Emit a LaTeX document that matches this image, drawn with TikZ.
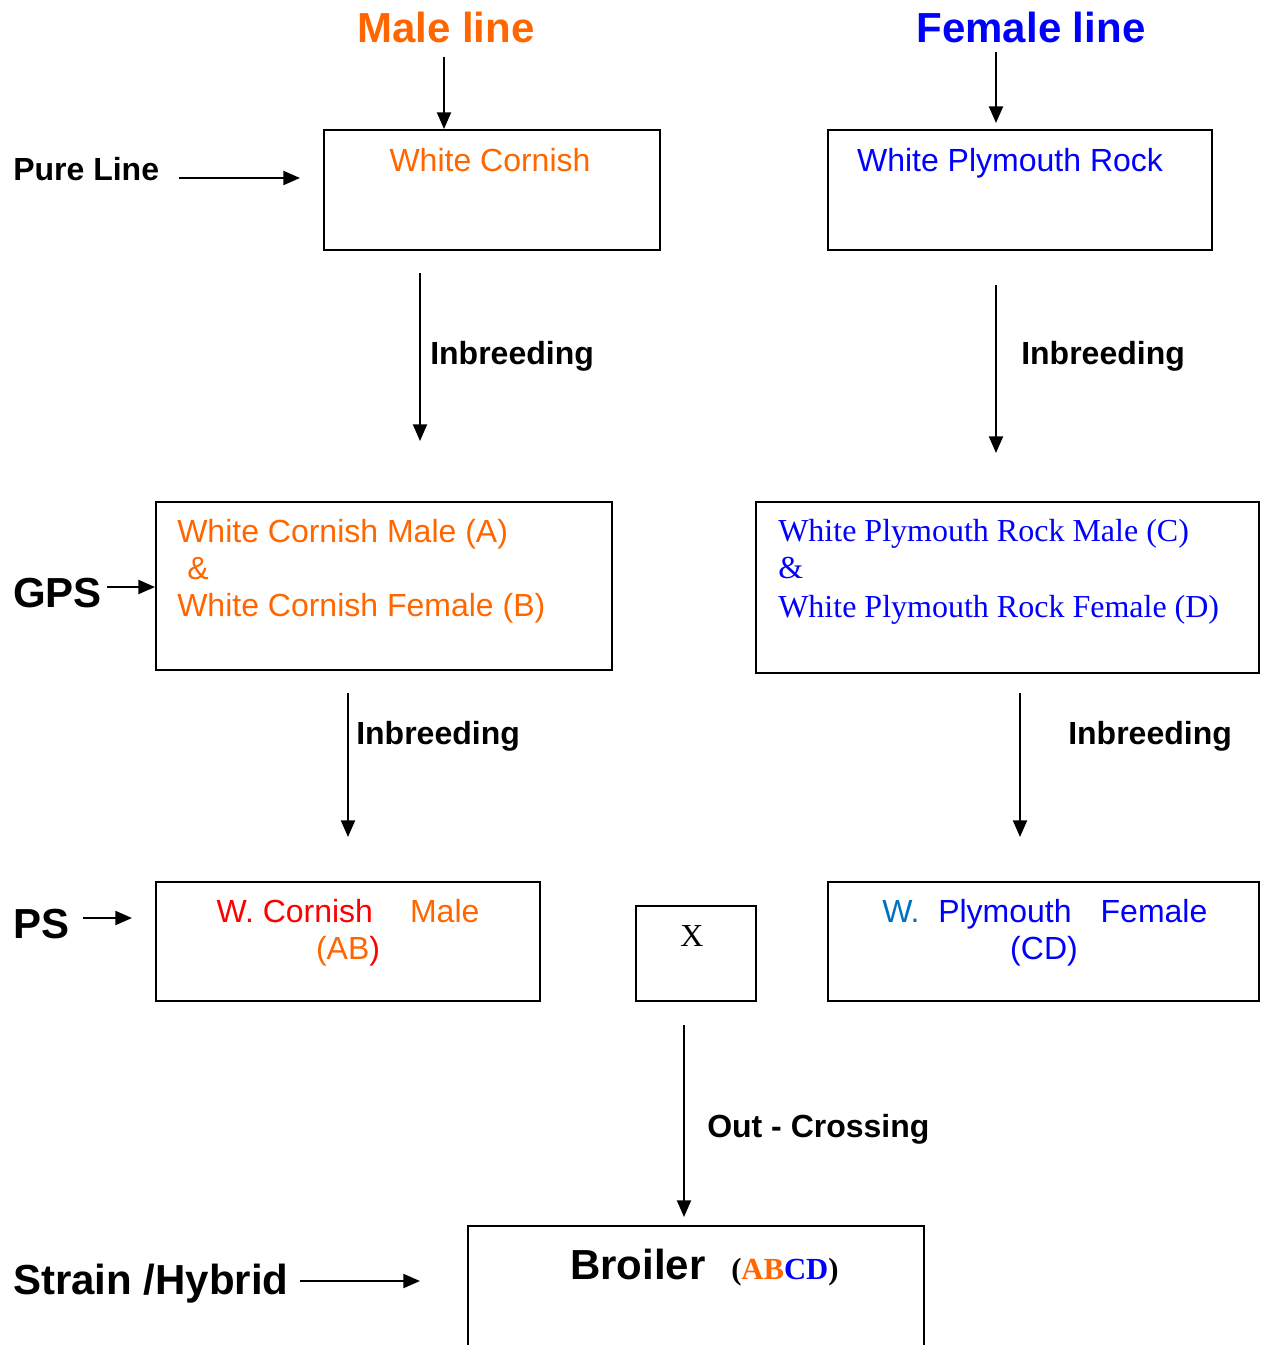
\documentclass[tikz,border=0pt]{standalone}
\usepackage{fontspec}
\setmainfont{Liberation Sans}
\newfontfamily\timesfont{Liberation Serif}
\usepackage{tikz}
\usetikzlibrary{arrows.meta,fit}
\definecolor{maleorange}{HTML}{FF6600}
\definecolor{femaleblue}{HTML}{0000FF}
\definecolor{cornishred}{HTML}{FF0000}
\definecolor{steelblue}{HTML}{0070C0}

\begin{document}
\begin{tikzpicture}[
        x=0.75pt,y=-0.75pt,
        box/.style={draw=black,line width=1.5pt,inner sep=0pt},
        txt/.style={inner sep=0pt,anchor=base west,font=\fontsize{24}{27.75}\selectfont},
        bold/.style={txt,font=\bfseries\fontsize{24}{27.75}\selectfont},
        big/.style={txt,font=\bfseries\fontsize{31.5}{36}\selectfont},
        serif/.style={txt,font=\timesfont\fontsize{24}{27.75}\selectfont},
        arr/.style={-{Triangle[length=12.5pt,width=10.5pt]},line width=1.5pt}
      ]
        \useasboundingbox (0,0) rectangle (1260,1345);
        \clip (0,0) rectangle (1260,1345);
        % boxes
        \node[box,fit={(324,130) (660,250)}] (wc) {};
        \node[box,fit={(828,130) (1212,250)}] (wpr) {};
        \node[box,fit={(156,502) (612,670)}] (gpsm) {};
        \node[box,fit={(756,502) (1259,673)}] (gpsf) {};
        \node[box,fit={(156,882) (540,1001)}] (psm) {};
        \node[box,fit={(636,906) (756,1001)}] (cross) {};
        \node[box,fit={(828,882) (1259,1001)}] (psf) {};
        \node[box,fit={(468,1226) (924,1365)}] (broiler) {};
        % headings and row labels
        \node[big,anchor=base,text=maleorange] (mline) at (446,43) {Male line};
        \node[big,anchor=base,text=femaleblue] (fline) at (1031,43) {Female line};
        \node[bold] (pure) at (13,180) {Pure Line};
        \node[big] (gps) at (13,607) {GPS};
        \node[big] (ps) at (13,938) {PS};
        \node[big] (strain) at (13,1294) {Strain /Hybrid};
        % box texts
        \node[txt,anchor=base,text=maleorange] (wctxt) at (490,171) {White Cornish};
        \node[txt,anchor=base,text=femaleblue] (wprtxt) at (1010,171) {White Plymouth Rock};
        \node[txt,text=maleorange] (gpsma) at (177,542) {White Cornish Male (A)};
        \node[txt,text=maleorange] (gpsmand) at (187,579) {\&};
        \node[txt,text=maleorange] (gpsmb) at (177,616) {White Cornish Female (B)};
        \node[serif,text=femaleblue] (gpsfc) at (778,541) {White Plymouth Rock Male (C)};
        \node[serif,text=femaleblue] (gpsfand) at (778,578) {\&};
        \node[serif,text=femaleblue] (gpsfd) at (778,617) {White Plymouth Rock Female (D)};
        \node[txt,anchor=base] (psmtop) at (348,922)
  {\textcolor{cornishred}{W. Cornish}\hspace{27.75pt}\textcolor{maleorange}{Male}};
        \node[txt,anchor=base] (psmab) at (348,959)
  {\textcolor{maleorange}{(AB}\textcolor{cornishred}{)}};
        \node[serif,anchor=base] (x) at (692,946) {X};
        \node[txt] (psftop) at (882,922)
  {\textcolor{steelblue}{W.}\hspace{14pt}\textcolor{femaleblue}{Plymouth}\hspace{21.75pt}\textcolor{femaleblue}{Female}};
        \node[txt,anchor=base,text=femaleblue] (psfcd) at (1044,959) {(CD)};
        \node[big] (broilertxt) at (570,1279) {Broiler};
        \node[txt,font=\timesfont\bfseries\fontsize{23}{27}\selectfont] (abcd) at (731,1279)
  {(\textcolor{maleorange}{AB}\textcolor{femaleblue}{CD})};
        % step labels
        \node[bold] (inb1) at (430,364) {Inbreeding};
        \node[bold] (inb2) at (1021,364) {Inbreeding};
        \node[bold] (inb3) at (356,744) {Inbreeding};
        \node[bold] (inb4) at (1068,744) {Inbreeding};
        \node[bold] (outx) at (707,1137) {Out - Crossing};
        % free arrow ends
        \coordinate (m0) at (444,57);
        \coordinate (f0) at (996,52);
        \coordinate (f1) at (996,123);
        \coordinate (p0) at (179,178);
        \coordinate (p1) at (300,178);
        \coordinate (i1a) at (420,273);
        \coordinate (i1b) at (420,441);
        \coordinate (i2a) at (996,285);
        \coordinate (i2b) at (996,453);
        \coordinate (g0) at (107,587);
        \coordinate (i3a) at (348,693);
        \coordinate (i3b) at (348,837);
        \coordinate (i4a) at (1020,693);
        \coordinate (i4b) at (1020,837);
        \coordinate (s0) at (83,918);
        \coordinate (s1) at (132,918);
        \coordinate (o0) at (684,1025);
        \coordinate (o1) at (684,1217);
        \coordinate (h0) at (300,1281);
        \coordinate (h1) at (420,1281);
        % arrows
        \draw[arr] (m0) -- (m0 |- wc.north);
        \draw[arr] (f0) -- (f1);
        \draw[arr] (p0) -- (p1);
        \draw[arr] (i1a) -- (i1b);
        \draw[arr] (i2a) -- (i2b);
        \draw[arr] (g0) -- (g0 -| gpsm.west);
        \draw[arr] (i3a) -- (i3b);
        \draw[arr] (i4a) -- (i4b);
        \draw[arr] (s0) -- (s1);
        \draw[arr] (o0) -- (o1);
        \draw[arr] (h0) -- (h1);
      \end{tikzpicture}
\end{document}
